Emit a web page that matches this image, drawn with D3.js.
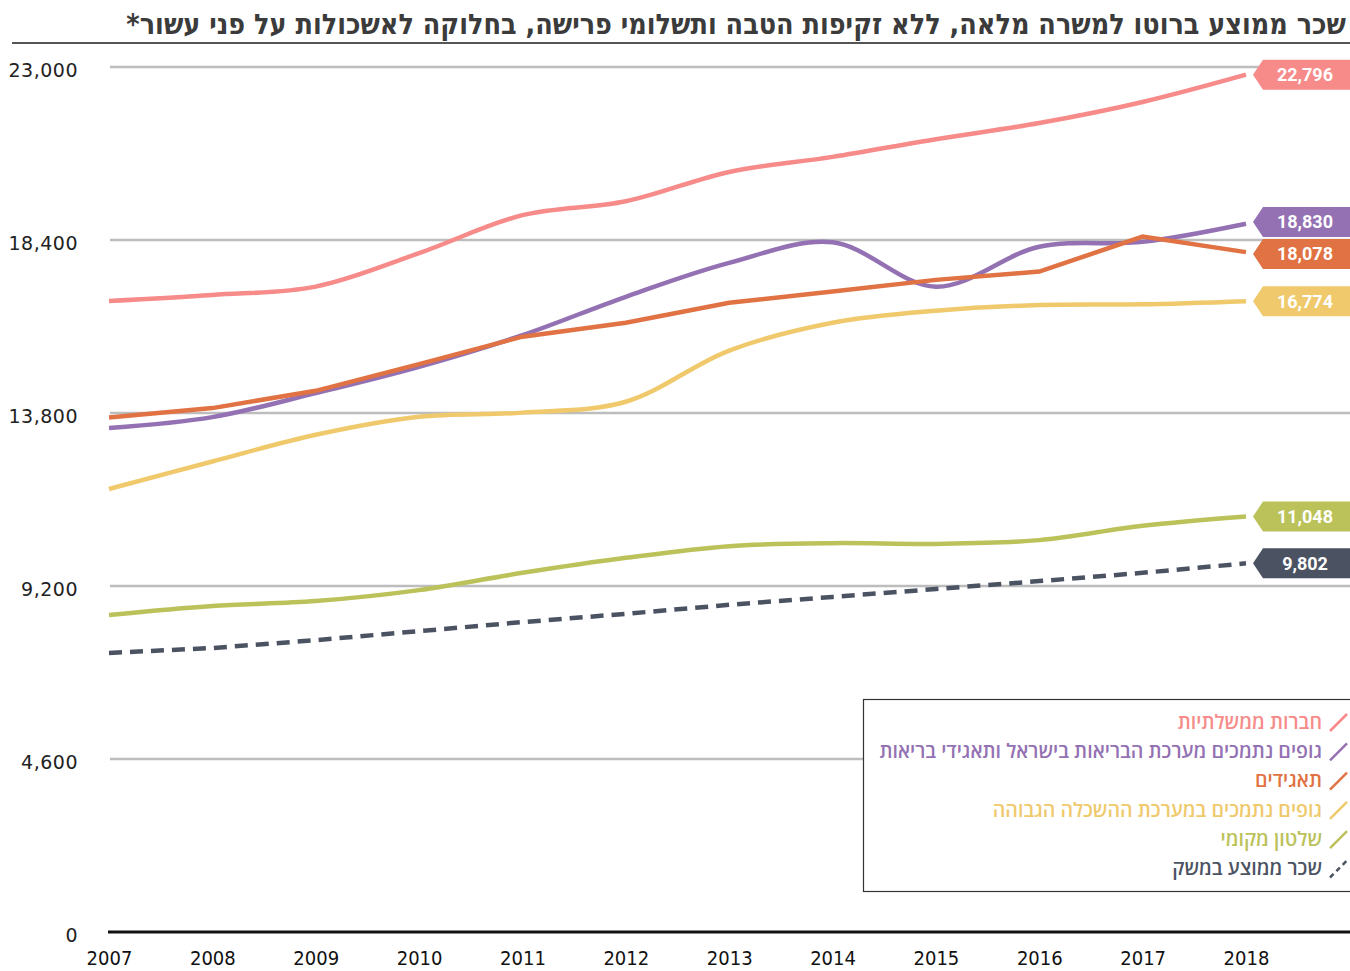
<!DOCTYPE html>
<html>
<head>
<meta charset="utf-8">
<script src="https://cdn.jsdelivr.net/npm/d3@7"></script>
<style>
  body { margin: 0; background: #fff; }
  svg { display: block; }
</style>
</head>
<body>
<div id="chart"></div>
<script>
// years on the x axis
const years = [2007, 2008, 2009, 2010, 2011, 2012, 2013, 2014, 2015, 2016, 2017, 2018];

// series (NIS)
const govCompanies = [16780, 16940, 17160, 18050, 19060, 19430, 20210, 20610, 21080, 21510, 22070, 22796];
const healthBodies = [13400, 13690, 14330, 15030, 15870, 16890, 17790, 18340, 17160, 18220, 18350, 18830];
const corporations = [13680, 13930, 14390, 15100, 15830, 16200, 16730, 17030, 17340, 17560, 18490, 18078];
const higherEd     = [11780, 12510, 13220, 13700, 13810, 14100, 15460, 16200, 16520, 16670, 16690, 16774];
const localGov     = [8430, 8670, 8800, 9090, 9550, 9950, 10260, 10340, 10320, 10420, 10800, 11048];
const economyAvg   = [7420, 7550, 7760, 8000, 8240, 8460, 8700, 8910, 9120, 9330, 9550, 9802];

const yTicks = [0, 4600, 9200, 13800, 18400, 23000];

const seriesNames = [
  "חברות ממשלתיות",
  "גופים נתמכים מערכת הבריאות בישראל ותאגידי בריאות",
  "תאגידים",
  "גופים נתמכים במערכת ההשכלה הגבוהה",
  "שלטון מקומי",
  "שכר ממוצע במשק"
];
const title = "שכר ממוצע ברוטו למשרה מלאה, ללא זקיפות הטבה ותשלומי פרישה, בחלוקה לאשכולות על פני עשור*";

const series = [
  {name: seriesNames[0], values: govCompanies, color: "#f68b8a", curve: "smooth"},
  {name: seriesNames[1], values: healthBodies, color: "#9371b3", curve: "smooth"},
  {name: seriesNames[2], values: corporations, color: "#e07243", curve: "linear"},
  {name: seriesNames[3], values: higherEd,     color: "#efc96b", curve: "smooth"},
  {name: seriesNames[4], values: localGov,     color: "#bbc25a", curve: "smooth"},
  {name: seriesNames[5], values: economyAvg,   color: "#4b5363", curve: "linear", dashed: true}
];

var W = 1350, H = 971;
var svg = d3.select("#chart").append("svg")
    .attr("width", W)
    .attr("height", H);

var x = d3.scaleLinear().domain([2007, 2018]).range([109, 1246]);
var y = d3.scaleLinear().domain([0, 23000]).range([932, 67]);

// title + rule under it (font size fitted to the width it takes in the original)
var titleText = svg.append("text")
    .attr("x", 1346)
    .attr("y", 34)
    .attr("text-anchor", "end")
    .style("font-family", "'Liberation Sans Narrow', 'DejaVu Sans Condensed', sans-serif")
    .style("font-weight", "bold")
    .style("font-size", "29px")
    .style("fill", "#3b3b3b")
    .text(title + "\u200F");
var tw = titleText.node().getComputedTextLength();
if (tw > 1220) titleText.style("font-size", (29 * 1220 / tw) + "px");
svg.append("line")
    .attr("x1", 12).attr("x2", W)
    .attr("y1", 43).attr("y2", 43)
    .style("stroke", "#555")
    .style("stroke-width", 2);

// gridlines
svg.append("g").selectAll("line")
  .data(yTicks.filter(d => d > 0))
  .enter().append("line")
    .attr("x1", 110).attr("x2", W)
    .attr("y1", d => y(d)).attr("y2", d => y(d))
    .style("stroke", "#bdbdbd")
    .style("stroke-width", 2.5);

// y axis labels
var yAxis = svg.append("g")
    .attr("transform", "translate(110,3)")
    .call(d3.axisLeft(y).tickValues(yTicks).tickFormat(d3.format(",")).tickSize(0).tickPadding(32));
yAxis.select(".domain").remove();
yAxis.selectAll("text")
    .style("font-family", "'DejaVu Sans', sans-serif")
    .style("font-size", "19px")
    .style("letter-spacing", "0.5px")
    .style("fill", "#222");

// baseline
svg.append("line")
    .attr("x1", 108).attr("x2", W)
    .attr("y1", y(0)).attr("y2", y(0))
    .style("stroke", "#111")
    .style("stroke-width", 3);

// x axis labels
var xAxis = svg.append("g")
    .attr("transform", "translate(0," + y(0) + ")")
    .call(d3.axisBottom(x).tickValues(years).tickFormat(d3.format("d")).tickSize(0).tickPadding(19));
xAxis.select(".domain").remove();
xAxis.selectAll("text")
    .style("font-family", "'Liberation Sans Narrow', 'DejaVu Sans Condensed', sans-serif")
    .style("font-size", "20px")
    .style("fill", "#111");

// lines
series.forEach(function(s) {
    var line = d3.line()
        .x(function(d, i) { return x(years[i]); })
        .y(function(d) { return y(d); })
        .curve(s.curve == "smooth" ? d3.curveCatmullRom.alpha(0.5) : d3.curveLinear);
    svg.append("path")
        .attr("d", line(s.values))
        .style("fill", "none")
        .style("stroke", s.color)
        .style("stroke-width", 4.5)
        .style("stroke-dasharray", s.dashed ? "13,8" : null);
});

// end value flags, pushed apart a bit where they collide
var flags = series.map(function(s) {
    var v = s.values[s.values.length - 1];
    return {v: v, color: s.color, cy: y(v)};
}).sort((a, b) => a.cy - b.cy);
for (var i = 1; i < flags.length; i++) {
    if (flags[i].cy - flags[i - 1].cy < 32) {
        var mid = (flags[i].cy + flags[i - 1].cy) / 2;
        flags[i - 1].cy = mid - 16;
        flags[i].cy = mid + 16;
    }
}
var fx = 1253, fh = 30;
var fg = svg.append("g").selectAll("g")
  .data(flags)
  .enter().append("g");
fg.append("path")
    .attr("d", d => "M" + fx + "," + d.cy + "L" + (fx + 10) + "," + (d.cy - fh / 2) + "L" + W + "," + (d.cy - fh / 2) +
                    "L" + W + "," + (d.cy + fh / 2) + "L" + (fx + 10) + "," + (d.cy + fh / 2) + "Z")
    .style("fill", d => d.color);
fg.append("text")
    .attr("x", 1305)
    .attr("y", d => d.cy)
    .attr("dy", "0.36em")
    .attr("text-anchor", "middle")
    .style("font-family", "Roboto, sans-serif")
    .style("font-weight", "bold")
    .style("font-size", "18px")
    .style("fill", "#fff")
    .text(d => d3.format(",")(d.v));

// legend
var legend = svg.append("g");
legend.append("rect")
    .attr("x", 863.5).attr("y", 699.5)
    .attr("width", 500).attr("height", 192)
    .style("fill", "#fff")
    .style("stroke", "#333")
    .style("stroke-width", 1.2);
var rows = legend.selectAll("g.row")
  .data(series)
  .enter().append("g")
    .attr("class", "row")
    .attr("transform", (d, i) => "translate(0," + (722 + i * 29.3) + ")");
rows.append("line")
    .attr("x1", 1330).attr("y1", 9)
    .attr("x2", 1347).attr("y2", -8)
    .style("stroke", d => d.color)
    .style("stroke-width", 2.5)
    .style("stroke-dasharray", d => d.dashed ? "5,4" : null);
rows.append("text")
    .attr("x", 1322)
    .attr("y", 0)
    .attr("dy", "0.35em")
    .attr("text-anchor", "end")
    .style("font-family", "'Open Sans', 'DejaVu Sans', sans-serif")
    .style("font-size", "19.6px")
    .style("font-weight", "600")
    .style("fill", d => d.color)
    .text(d => d.name);
</script>
</body>
</html>
